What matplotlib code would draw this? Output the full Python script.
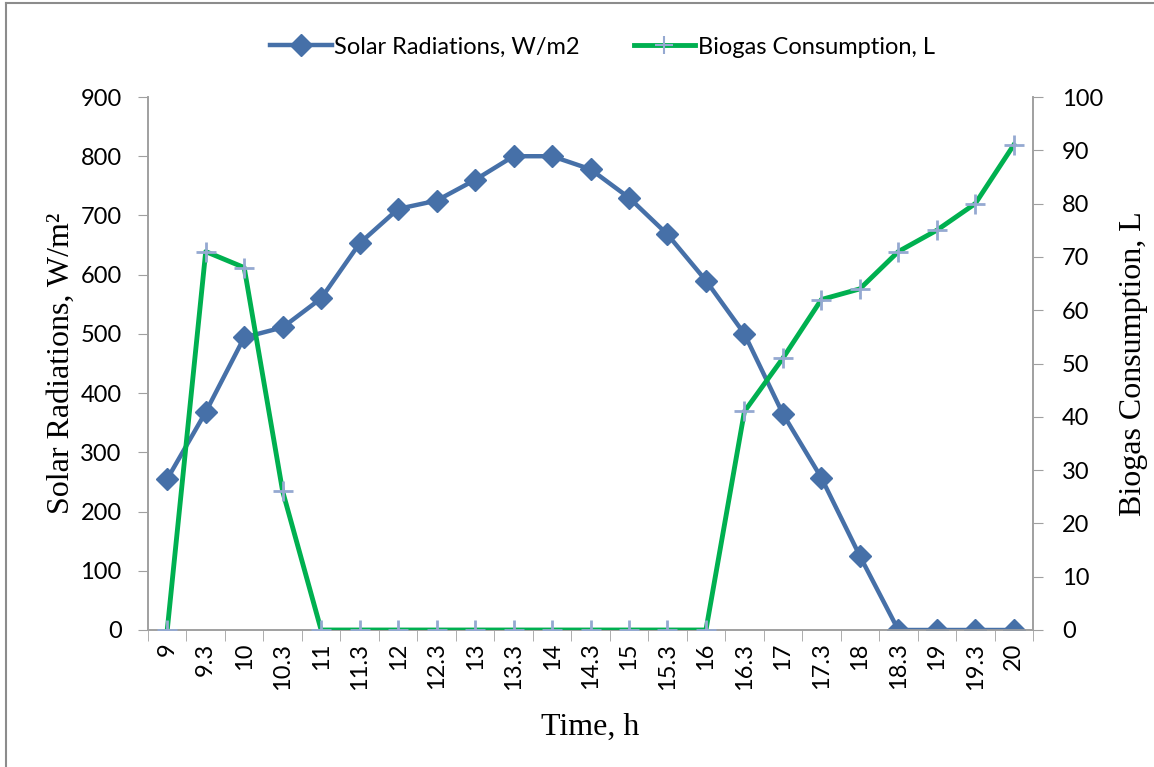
import matplotlib.pyplot as plt
from matplotlib.lines import Line2D

# time of day, h (category labels)
hours = ['9', '9.3', '10', '10.3', '11', '11.3', '12', '12.3', '13', '13.3', '14', '14.3',
         '15', '15.3', '16', '16.3', '17', '17.3', '18', '18.3', '19', '19.3', '20']
solar = [255, 368, 494, 511, 560, 653, 711, 725, 760, 800, 800, 778,
         730, 668, 590, 500, 365, 257, 125, 0, 0, 0, 0]
biogas = [0, 71, 68, 26, 0, 0, 0, 0, 0, 0, 0, 0,
          0, 0, 0, 41, 51, 62, 64, 71, 75, 80, 91]

BLUE = '#4670A8'
GREEN = '#00B050'
CROSS = '#95A9D1'
GREY = '#A0A0A0'
tick_font = 'Lato'
label_font = 'Liberation Serif'

fig = plt.figure(figsize=(11.54, 7.67), dpi=100)
ax = fig.add_axes([148/1154, 1 - 630/767, (1033 - 148)/1154, (630 - 97)/767])
ax2 = ax.twinx()

x = list(range(len(hours)))
ax.plot(x, solar, color=BLUE, lw=3.2, marker='D', markersize=11.5,
        markerfacecolor=BLUE, markeredgecolor=BLUE, zorder=3)
ax2.plot(x, biogas, color=GREEN, lw=3.5, marker='+', markersize=14,
         markeredgecolor=CROSS, markeredgewidth=2, zorder=3)

ax.set_xlim(-0.5, len(hours) - 0.5)
ax.set_ylim(0, 900)
ax2.set_ylim(0, 100)
ax.set_yticks(range(0, 901, 100))
ax2.set_yticks(range(0, 101, 10))
ax.set_xticks(x)
ax.set_xticklabels(hours, rotation=90, fontsize=17, family=tick_font)
ax.set_xticks([i - 0.5 for i in range(len(hours) + 1)], minor=True)
ax.tick_params(axis='x', which='major', length=0, pad=9)
ax.tick_params(axis='x', which='minor', length=8, color=GREY, direction='out')
ax.tick_params(axis='y', length=7, color=GREY, labelsize=17, pad=12)
ax2.tick_params(axis='y', length=7, color=GREY, labelsize=17, pad=14)
for lab in ax.get_yticklabels() + ax2.get_yticklabels():
    lab.set_family(tick_font)

for a in (ax, ax2):
    a.spines['top'].set_visible(False)
    for s in ('left', 'right', 'bottom'):
        a.spines[s].set_color(GREY)
        a.spines[s].set_linewidth(1.2)

ax.set_ylabel('Solar Radiations, W/m²', fontsize=23, family=label_font, labelpad=3)
ax2.set_ylabel('Biogas Consumption, L', fontsize=23, family=label_font, labelpad=11)
ax.set_xlabel('Time, h', fontsize=23, family=label_font, labelpad=17)

handles = [Line2D([], [], color=BLUE, lw=3.2, marker='D', markersize=11),
           Line2D([], [], color=GREEN, lw=3.5, marker='+', markersize=13,
                  markeredgecolor=CROSS, markeredgewidth=1.5)]
fig.legend(handles, ['Solar Radiations, W/m2', 'Biogas Consumption, L'],
           loc='center', bbox_to_anchor=(0.522, 1 - 47/767), ncol=2, frameon=False,
           prop={'family': tick_font, 'size': 17}, handlelength=2.6,
           handletextpad=0.1, columnspacing=2.3)

# chart area border (top and left edges visible)
fig.add_artist(Line2D([6/1154, 1], [1 - 3/767, 1 - 3/767], color='#8C8C8C', lw=1.5))
fig.add_artist(Line2D([6/1154, 6/1154], [0, 1 - 3/767], color='#8C8C8C', lw=1.5))

fig.savefig('out.png', dpi=100)
